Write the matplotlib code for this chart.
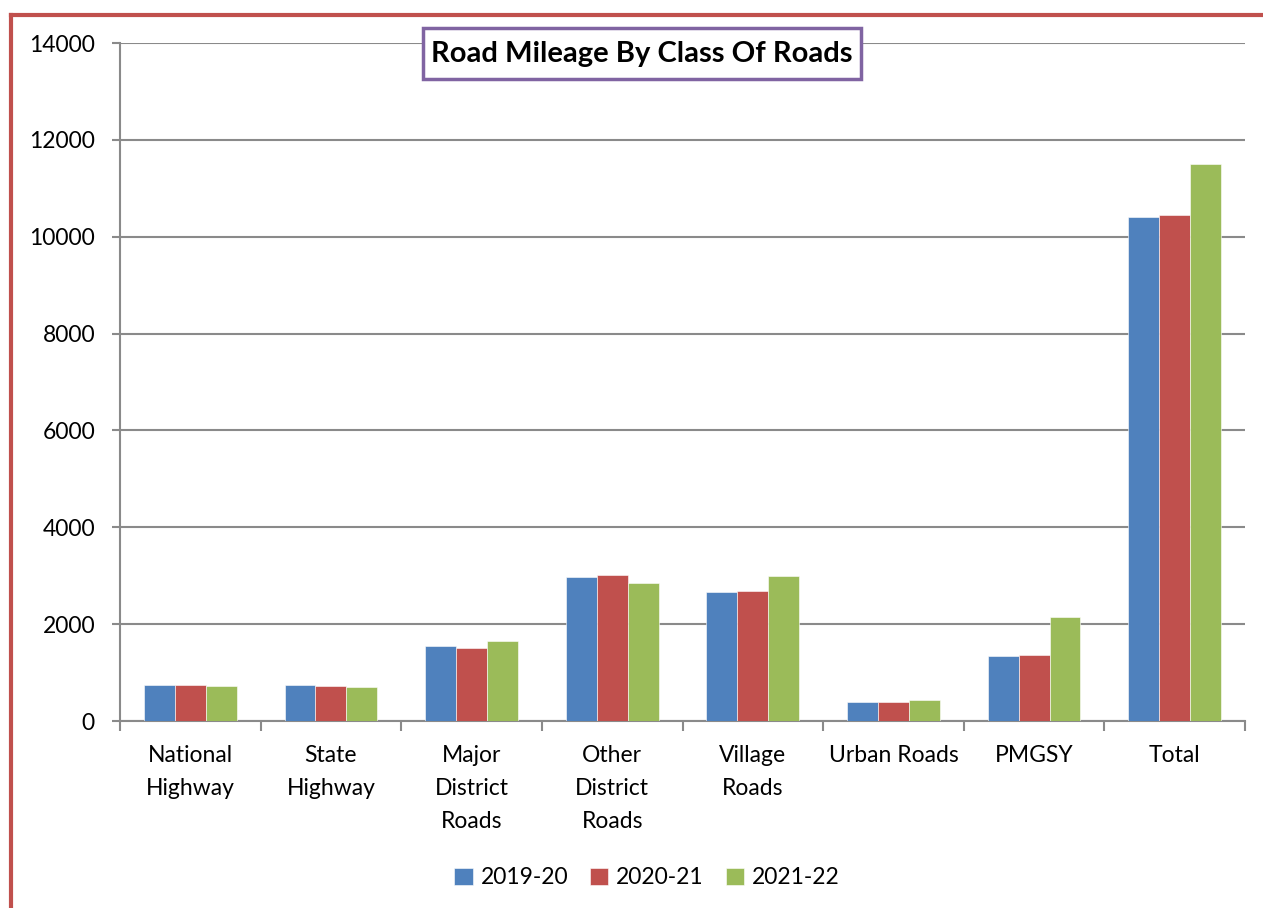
import matplotlib
matplotlib.use("Agg")
import matplotlib.pyplot as plt
from matplotlib.lines import Line2D
from matplotlib.patches import Rectangle
import numpy as np

categories = ["National\nHighway", "State\nHighway", "Major\nDistrict\nRoads",
              "Other\nDistrict\nRoads", "Village\nRoads", "Urban Roads", "PMGSY", "Total"]
series_names = ["2019-20", "2020-21", "2021-22"]
v2019 = [743, 737, 1542, 2967, 2664, 399, 1342, 10407]
v2020 = [743, 716, 1500, 3008, 2691, 399, 1370, 10448]
v2021 = [716, 695, 1658, 2850, 2994, 427, 2147, 11495]
colors = ["#4F81BD", "#C0504D", "#9BBB59"]
yticks = [0, 2000, 4000, 6000, 8000, 10000, 12000, 14000]

plt.rcParams['font.family'] = ['Lato', 'DejaVu Sans']

fig = plt.figure(figsize=(12.63, 9.08), dpi=100)
ax = fig.add_axes([120/1263, 1-721/908, (1245-120)/1263, (721-43)/908])

x = np.arange(len(categories))
w = 0.22
for i, (vals, name) in enumerate(zip([v2019, v2020, v2021], series_names)):
    ax.bar(x + (i-1)*w, vals, width=w, color=colors[i], label=name,
           edgecolor='white', linewidth=0.4, zorder=3)

ax.set_xlim(-0.5, len(categories)-0.5)
ax.set_ylim(0, 14000)
ax.set_yticks(yticks)
ax.set_yticklabels([str(t) for t in yticks], fontsize=16.5)
ax.yaxis.grid(True, color='#8a8a8a', linewidth=1.5, zorder=0)
ax.set_axisbelow(True)

ax.set_xticks(x)
ax.set_xticklabels(categories, fontsize=16.5, linespacing=1.72)
ax.set_xticks(np.arange(-0.5, len(categories)), minor=True)
ax.tick_params(axis='x', which='major', length=0, pad=17)
ax.tick_params(axis='x', which='minor', length=7, width=1.5, color='#8a8a8a')
ax.tick_params(axis='y', length=6, width=1.5, color='#8a8a8a', pad=12)

for s in ['top', 'right']:
    ax.spines[s].set_visible(False)
for s in ['left', 'bottom']:
    ax.spines[s].set_color('#8a8a8a')
    ax.spines[s].set_linewidth(1.5)

leg = fig.legend(loc='center', bbox_to_anchor=(647/1263, 1-878/908), ncol=3,
                 frameon=False, fontsize=16.5, handlelength=0.8, handleheight=0.8,
                 handletextpad=0.35, columnspacing=0.95)

# title box
fig.add_artist(Rectangle((423/1263, 1-79/908), 438/1263, 51/908, transform=fig.transFigure,
                         facecolor='white', edgecolor='#8064A2', linewidth=2.5, zorder=5))
fig.text(642/1263, 1-54/908, "Road Mileage By Class Of Roads", ha='center', va='center',
         fontsize=21, fontweight='bold', zorder=6)

red = '#C0504D'
fig.add_artist(Line2D([10.5/1263, 1], [1-15/908, 1-15/908], transform=fig.transFigure,
                      color=red, linewidth=3))
fig.add_artist(Line2D([10.5/1263, 10.5/1263], [0, 1-15/908], transform=fig.transFigure,
                      color=red, linewidth=3))

fig.savefig("out.png", dpi=100)
